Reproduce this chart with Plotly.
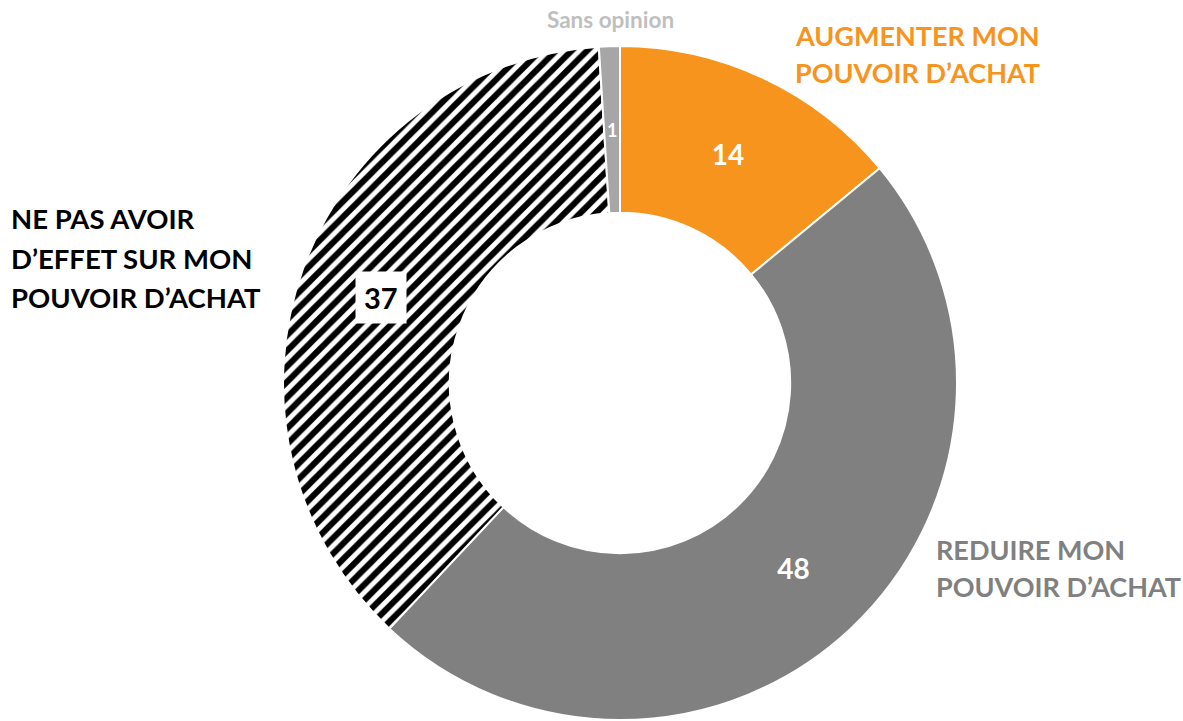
import math
import plotly.graph_objects as go

categories = ["AUGMENTER MON POUVOIR D'ACHAT", "REDUIRE MON POUVOIR D'ACHAT",
              "NE PAS AVOIR D'EFFET SUR MON POUVOIR D'ACHAT", "Sans opinion"]
values = [14, 48, 37, 1]
slice_colors = ["#F7941D", "#808080", "#FFFFFF", "#A6A6A6"]
patterns = ["", "", "/", ""]

W, H = 1183, 721
cx_px, cy_px, R_px = 620, 383, 337
hole = 0.505
FONT = "Lato, 'Open Sans', sans-serif"

dom_x = [(cx_px - R_px) / W, (cx_px + R_px) / W]
dom_y = [(H - cy_px - R_px) / H, (H - cy_px + R_px) / H]

texts = [str(v) for v in values]
texts[2] = ""  # drawn separately with a white box
texts[3] = ""  # drawn separately (too thin for plotly's inside text)

fig = go.Figure()
fig.add_trace(go.Pie(
    labels=categories, values=values, sort=False, direction="clockwise",
    rotation=0, hole=hole, domain=dict(x=dom_x, y=dom_y),
    text=texts, textinfo="text", textposition="inside",
    insidetextorientation="horizontal",
    textfont=dict(family=FONT, size=28, color="white", weight="bold"),
    marker=dict(colors=slice_colors, line=dict(color="white", width=2),
                pattern=dict(shape=patterns, fgcolor="#000000", bgcolor="#FFFFFF",
                             fgopacity=1, size=11, solidity=0.55, fillmode="replace")),
    showlegend=False, hoverinfo="label+value",
))

total = sum(values)
r_mid = R_px * (1 + hole) / 2

def mid_point(i):
    start = sum(values[:i])
    ang = (start + values[i] / 2) / total * 2 * math.pi
    return cx_px + r_mid * math.sin(ang), cy_px - r_mid * math.cos(ang)

lx, ly = mid_point(2)
fig.add_annotation(x=lx / W, y=1 - ly / H, xref="paper", yref="paper",
                   xanchor="center", yanchor="middle",
                   text="<b>" + str(values[2]) + "</b>", showarrow=False, bgcolor="white",
                   borderpad=8, font=dict(family=FONT, size=29, color="black"))
sx, sy = mid_point(3)
fig.add_annotation(x=sx / W, y=1 - sy / H, xref="paper", yref="paper",
                   xanchor="center", yanchor="middle",
                   text="<b>" + str(values[3]) + "</b>", showarrow=False,
                   font=dict(family=FONT, size=18, color="white"))

def add_lines(lines, x, y0, dy, color, size, xanchor="left"):
    for i, t in enumerate(lines):
        fig.add_annotation(x=x / W, y=1 - (y0 + i * dy) / H, xref="paper", yref="paper",
                           text="<b>" + t + "</b>", showarrow=False, xanchor=xanchor,
                           yanchor="middle",
                           font=dict(family=FONT, size=size, color=color))

add_lines(["Sans opinion"], 610, 20, 0, "#BFBFBF", 22.5, "center")
add_lines(["AUGMENTER MON", "POUVOIR D’ACHAT"], 793, 36, 37, "#F7941D", 27)
add_lines(["REDUIRE MON", "POUVOIR D’ACHAT"], 934, 549, 37, "#808080", 27)
add_lines(["NE PAS AVOIR", "D’EFFET SUR MON", "POUVOIR D’ACHAT"], 9, 219, 39, "black", 27.5)

fig.update_layout(width=W, height=H, margin=dict(l=0, r=0, t=0, b=0),
                  paper_bgcolor="white", plot_bgcolor="white")
fig.write_html("out.html")
